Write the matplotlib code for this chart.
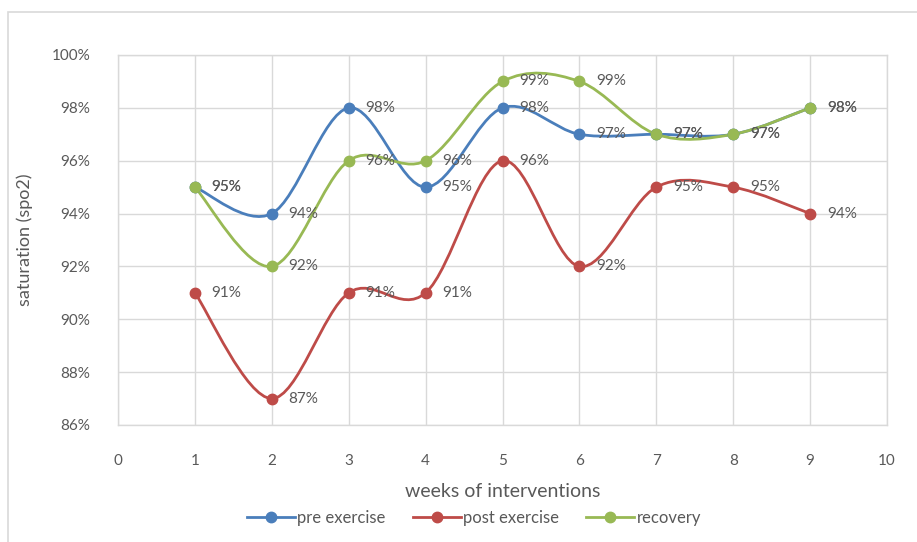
import matplotlib
matplotlib.use("Agg")
import matplotlib.pyplot as plt
import numpy as np
from matplotlib.path import Path
from matplotlib.patches import PathPatch, Rectangle
from matplotlib.ticker import PercentFormatter

plt.rcParams['font.family'] = ['Lato', 'DejaVu Sans']

weeks = [1, 2, 3, 4, 5, 6, 7, 8, 9]
pre_exercise = [95, 94, 98, 95, 98, 97, 97, 97, 98]
post_exercise = [91, 87, 91, 91, 96, 92, 95, 95, 94]
recovery = [95, 92, 96, 96, 99, 99, 97, 97, 98]

series = [("pre exercise", pre_exercise, "#4A7EBB"),
          ("post exercise", post_exercise, "#BE4B48"),
          ("recovery", recovery, "#98B954")]

text_col = "#595959"
grid_col = "#D9D9D9"


def smooth_path(x, y):
    # excel-like smoothed line: cubic bezier through the points
    x = np.asarray(x, float)
    y = np.asarray(y, float)
    n = len(x)
    verts = [(x[0], y[0])]
    codes = [Path.MOVETO]
    for i in range(n - 1):
        x0, y0 = (x[i - 1], y[i - 1]) if i > 0 else (x[i], y[i])
        x3, y3 = (x[i + 2], y[i + 2]) if i + 2 < n else (x[i + 1], y[i + 1])
        c1 = (x[i] + (x[i + 1] - x0) / 6, y[i] + (y[i + 1] - y0) / 6)
        c2 = (x[i + 1] - (x3 - x[i]) / 6, y[i + 1] - (y3 - y[i]) / 6)
        verts += [c1, c2, (x[i + 1], y[i + 1])]
        codes += [Path.CURVE4] * 3
    return Path(verts, codes)


fig = plt.figure(figsize=(9.17, 5.42), dpi=100)
fig.patches.append(Rectangle((8 / 917, 0 - 0.01), 1.0, (530 / 542) + 0.01,
                             transform=fig.transFigure, fill=False,
                             edgecolor=grid_col, lw=1.2))
ax = fig.add_axes([118 / 917, 117 / 542, 769 / 917, 370 / 542])

for name, vals, col in series:
    ax.add_patch(PathPatch(smooth_path(weeks, vals), fill=False,
                           edgecolor=col, lw=2.0, zorder=3))
    ax.plot(weeks, vals, 'o', color=col, ms=7.5, zorder=4)
    ax.plot([], [], '-o', color=col, lw=2.0, ms=7.5, label=name)
    for w, v in zip(weeks, vals):
        ax.annotate(f"{v}%", (w, v), xytext=(12, 0), textcoords='offset points',
                    va='center', ha='left', fontsize=11, color=text_col, zorder=5)

ax.set_xlim(0, 10)
ax.set_ylim(86, 100)
ax.set_xticks(range(0, 11))
ax.set_yticks(range(86, 101, 2))
ax.yaxis.set_major_formatter(PercentFormatter(decimals=0))
ax.grid(True, color=grid_col, lw=1.0)
ax.set_axisbelow(True)
ax.tick_params(length=0, labelsize=11, labelcolor=text_col)
ax.tick_params(axis='y', pad=20)
ax.tick_params(axis='x', pad=21)
for s in ax.spines.values():
    s.set_color(grid_col)
    s.set_linewidth(1.0)

ax.set_xlabel("weeks of interventions", fontsize=14, color=text_col, labelpad=11)
ax.set_ylabel("saturation (spo2)", fontsize=13, color=text_col, labelpad=13)

fig.legend(loc='center', bbox_to_anchor=(474 / 917, 1 - 518 / 542), ncol=3,
           frameon=False, fontsize=12, labelcolor=text_col, handlelength=2.9,
           columnspacing=1.6, handletextpad=0.15)

fig.savefig("out.png", dpi=100)
